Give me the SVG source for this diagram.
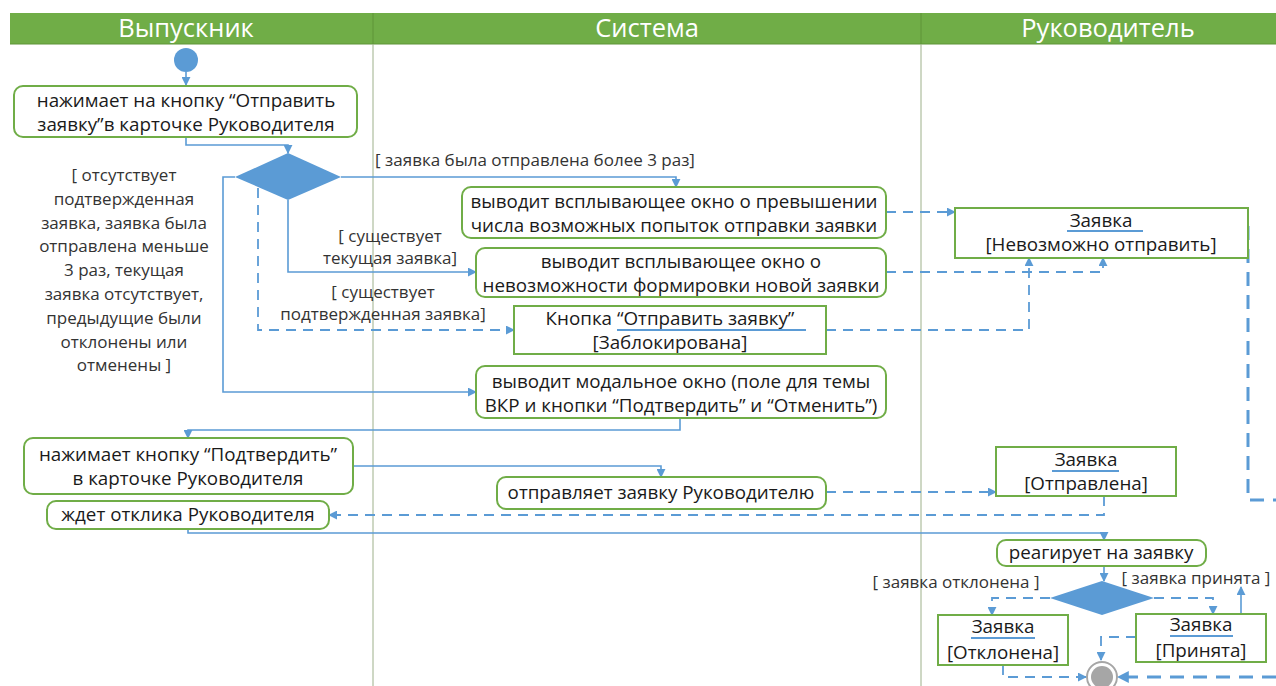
<svg xmlns="http://www.w3.org/2000/svg" width="1276" height="686" viewBox="0 0 1276 686">
<defs>
<marker id="ah" viewBox="0 0 10 10" refX="9" refY="5" markerWidth="9" markerHeight="9" markerUnits="userSpaceOnUse" orient="auto"><path d="M0,0 L10,5 L0,10 z" fill="#5B9BD5"/></marker>
<marker id="ahb" viewBox="0 0 10 10" refX="9" refY="5" markerWidth="12" markerHeight="12" markerUnits="userSpaceOnUse" orient="auto"><path d="M0,0 L10,5 L0,10 z" fill="#5B9BD5"/></marker>
</defs>
<style>
.hdr{fill:#70AD47}
.ht{font-family:"Open Sans","Noto Sans",sans-serif;font-size:25.5px;fill:#fff;text-anchor:middle}
.lane{stroke:#9DB08A;stroke-width:1}
.act{fill:#fff;stroke:#70AD47;stroke-width:2}
.obj{fill:#fff;stroke:#70AD47;stroke-width:2}
.t{font-family:"Open Sans","Noto Sans",sans-serif;font-size:18.8px;fill:#1a1a1a;text-anchor:middle}
.g{font-family:"Open Sans","Noto Sans",sans-serif;font-size:17px;fill:#333;text-anchor:middle}
.c{fill:none;stroke:#5B9BD5;stroke-width:1.6}
.d{fill:none;stroke:#5B9BD5;stroke-width:1.8;stroke-dasharray:10 7}
.dt{fill:none;stroke:#5B9BD5;stroke-width:3;stroke-dasharray:14 9}
.ul{stroke:#5B9BD5;stroke-width:2}
.dia{fill:#5B9BD5}
</style>
<g id="swimlanes">
<rect class="hdr" x="10" y="13" width="1266" height="31"/>
<line x1="373" y1="13" x2="373" y2="44" stroke="#5E9438" stroke-width="1"/>
<line x1="921" y1="13" x2="921" y2="44" stroke="#5E9438" stroke-width="1"/>
<line x1="10" y1="44" x2="1276" y2="44" stroke="#5E9438" stroke-width="1"/>
<line class="lane" x1="373" y1="44" x2="373" y2="686"/>
<line class="lane" x1="921" y1="44" x2="921" y2="686"/>
<text class="ht" x="186" y="37">Выпускник</text>
<text class="ht" x="647" y="37">Система</text>
<text class="ht" x="1108" y="37">Руководитель</text>
</g>
<g id="connectors">
<path class="c" d="M186,72 V85" marker-end="url(#ah)"/>
<path class="c" d="M186,137 V145 H288 V153" marker-end="url(#ah)"/>
<path class="c" d="M341,177 H676 V187" marker-end="url(#ah)"/>
<path class="c" d="M288,200 V272 H476" marker-end="url(#ah)"/>
<path class="d" d="M258,188 V330 H514" marker-end="url(#ah)"/>
<path class="c" d="M235,177 H223 V392 H476" marker-end="url(#ah)"/>
<path class="d" d="M886,212 H955" marker-end="url(#ah)"/>
<path class="d" d="M886,272 H1103 V258" marker-end="url(#ah)"/>
<path class="d" d="M826,330 H1029 V258" marker-end="url(#ah)"/>
<path class="c" d="M680,418 V430 H188 V438" marker-end="url(#ah)"/>
<path class="c" d="M353,466 H661 V477" marker-end="url(#ah)"/>
<path class="d" d="M826,492 H996" marker-end="url(#ah)"/>
<path class="d" d="M1104,496 V515 H329" marker-end="url(#ah)"/>
<path class="c" d="M188,529 V533 H1104 V540" marker-end="url(#ah)"/>
<path class="c" d="M1104,566 V581" marker-end="url(#ah)"/>
<path class="d" d="M1050,598 H992 V615" marker-end="url(#ah)"/>
<path class="d" d="M1154,598 H1213 V614" marker-end="url(#ah)"/>
<path class="c" d="M1241,614 V587" marker-end="url(#ah)"/>
<path class="d" d="M1003,665 V677 H1086" marker-end="url(#ah)"/>
<path class="d" d="M1136,637 H1101 V660" marker-end="url(#ah)"/>
<path class="dt" d="M1276,677 H1118" marker-end="url(#ahb)"/>
<path class="dt" d="M1248,226 V500 H1276"/>
</g>
<g id="start"><circle cx="186" cy="60" r="12" fill="#5B9BD5"/></g>
<g id="a1"><rect class="act" x="14" y="86" width="343" height="51" rx="9"/>
<text class="t" x="186" y="107">нажимает на кнопку “Отправить</text>
<text class="t" x="186" y="131">заявку”в карточке Руководителя</text></g>
<g id="d1"><path class="dia" d="M288,153 L341,177 L288,200 L235,177 z"/></g>
<g id="g1"><text class="g" x="535" y="166">[  заявка была отправлена более 3 раз]</text></g>
<g id="g2"><text class="g" x="390" y="242">[ существует</text><text class="g" x="390" y="264">текущая заявка]</text></g>
<g id="g3"><text class="g" x="383" y="298">[ существует</text><text class="g" x="383" y="320">подтвержденная заявка]</text></g>
<g id="g4">
<text class="g" x="124" y="181">[ отсутствует</text>
<text class="g" x="124" y="205">подтвержденная</text>
<text class="g" x="124" y="229">заявка, заявка была</text>
<text class="g" x="124" y="252">отправлена меньше</text>
<text class="g" x="124" y="276">3 раз, текущая</text>
<text class="g" x="124" y="300">заявка отсутствует,</text>
<text class="g" x="124" y="324">предыдущие были</text>
<text class="g" x="124" y="348">отклонены или</text>
<text class="g" x="124" y="371">отменены ]</text>
</g>
<g id="a2"><rect class="act" x="462" y="187" width="424" height="51" rx="9"/>
<text class="t" x="674" y="208">выводит всплывающее окно о превышении</text>
<text class="t" x="674" y="232">числа возможных попыток отправки заявки</text></g>
<g id="a3"><rect class="act" x="476" y="248" width="410" height="49" rx="9"/>
<text class="t" x="681" y="268">выводит всплывающее окно о</text>
<text class="t" x="681" y="292">невозможности формировки новой заявки</text></g>
<g id="o1"><rect class="obj" x="514" y="306" width="312" height="48"/>
<text class="t" x="670" y="325">Кнопка “Отправить заявку”</text>
<line class="ul" x1="617" y1="330" x2="806" y2="330"/>
<text class="t" x="670" y="349">[Заблокирована]</text></g>
<g id="a4"><rect class="act" x="476" y="366" width="410" height="52" rx="9"/>
<text class="t" x="681" y="388">выводит модальное окно (поле для темы</text>
<text class="t" x="681" y="412">ВКР и кнопки “Подтвердить” и “Отменить”)</text></g>
<g id="o2"><rect class="obj" x="955" y="208" width="293" height="50"/>
<text class="t" x="1101" y="227">Заявка</text>
<line class="ul" x1="1067" y1="231" x2="1143" y2="231"/>
<text class="t" x="1101" y="251">[Невозможно отправить]</text></g>
<g id="a5"><rect class="act" x="24" y="438" width="329" height="56" rx="9"/>
<text class="t" x="188" y="461">нажимает кнопку “Подтвердить”</text>
<text class="t" x="188" y="485">в карточке Руководителя</text></g>
<g id="a6"><rect class="act" x="497" y="477" width="329" height="32" rx="9"/>
<text class="t" x="661" y="499">отправляет заявку Руководителю</text></g>
<g id="o3"><rect class="obj" x="996" y="447" width="180" height="49"/>
<text class="t" x="1086" y="466">Заявка</text>
<line class="ul" x1="1052" y1="471" x2="1119" y2="471"/>
<text class="t" x="1086" y="490">[Отправлена]</text></g>
<g id="a7"><rect class="act" x="47" y="501" width="282" height="28" rx="9"/>
<text class="t" x="188" y="521">ждет отклика Руководителя</text></g>
<g id="a8"><rect class="act" x="997" y="540" width="209" height="26" rx="9"/>
<text class="t" x="1101" y="559">реагирует на заявку</text></g>
<g id="d2"><path class="dia" d="M1102,581 L1154,598 L1102,615 L1050,598 z"/></g>
<g id="g5"><text class="g" x="956" y="588">[ заявка отклонена ]</text></g>
<g id="g6"><text class="g" x="1196" y="584">[ заявка принята ]</text></g>
<g id="o4"><rect class="obj" x="938" y="615" width="130" height="50"/>
<text class="t" x="1003" y="633">Заявка</text>
<line class="ul" x1="971" y1="638" x2="1035" y2="638"/>
<text class="t" x="1003" y="659">[Отклонена]</text></g>
<g id="o5"><rect class="obj" x="1136" y="614" width="130" height="48"/>
<text class="t" x="1201" y="631">Заявка</text>
<line class="ul" x1="1170" y1="636" x2="1233" y2="636"/>
<text class="t" x="1201" y="657">[Принята]</text></g>
<g id="end"><circle cx="1102" cy="677" r="15" fill="#fff" stroke="#A6A6A6" stroke-width="2"/><circle cx="1102" cy="677" r="11" fill="#A6A6A6"/></g>
</svg>
